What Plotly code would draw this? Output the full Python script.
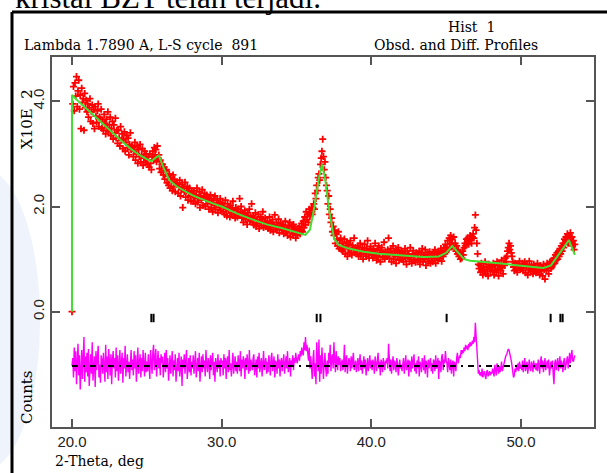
import numpy as np
import plotly.graph_objects as go

# ---------------- data ----------------
scan_start, scan_step = 20.0, 0.05   # 2-theta grid of the observed profile

obs = [0.00,
 3.95,4.28,3.82,4.35,4.10,4.47,3.90,4.20,4.40,3.85,4.12,3.48,4.25,3.98,4.05,3.45,4.15,3.88,4.02,3.80,
 3.95,3.70,3.88,4.05,3.62,3.80,3.93,3.58,3.84,3.48,3.90,3.72,3.60,3.82,3.95,3.52,3.70,3.66,3.85,3.49,
 3.62,3.45,3.75,3.58,3.38,3.66,3.50,3.80,3.42,3.55,3.70,3.35,3.48,3.62,3.28,3.55,3.40,3.68,3.30,3.45,
 3.20,3.45,3.30,3.15,3.52,3.26,3.38,3.10,3.28,3.42,3.05,3.22,3.35,3.12,3.30,2.98,3.18,3.40,3.08,3.15,
 3.12,2.95,3.05,3.22,2.88,3.00,3.15,2.82,3.08,2.95,3.18,2.85,2.98,3.10,2.78,2.92,3.05,2.84,3.00,2.88,
 2.80,2.95,2.75,3.00,2.82,2.70,2.95,3.05,2.88,3.12,2.98,3.08,2.85,3.15,2.92,2.98,2.72,2.88,2.65,2.80,
 2.80,2.60,2.75,2.52,2.68,2.70,2.45,2.58,2.40,2.62,2.35,2.55,2.48,2.30,2.60,2.38,2.52,2.28,2.45,2.42,
 2.45,2.25,2.38,2.50,2.20,2.32,2.42,1.98,2.35,2.28,2.46,2.18,2.30,2.38,2.12,2.28,2.35,2.20,2.10,2.30,
 2.25,2.10,2.30,2.18,2.05,2.22,2.35,2.08,2.15,2.28,1.98,2.20,2.12,2.32,2.02,2.18,2.25,2.00,2.14,2.22,
 2.05,2.18,1.95,2.12,2.22,1.98,2.08,1.90,2.15,2.02,2.20,1.94,2.06,2.12,1.88,2.05,1.98,2.15,1.92,2.04,
 2.08,1.90,2.00,1.85,2.12,1.95,1.82,2.05,1.92,1.98,1.80,2.02,1.88,1.95,2.10,1.84,1.92,1.78,1.98,1.86,
 1.80,1.95,1.85,2.15,1.90,2.00,1.78,1.88,1.70,1.84,1.92,1.75,1.82,1.66,1.88,1.79,1.95,1.72,1.80,2.05,
 1.70,1.82,1.65,1.78,1.88,1.62,1.75,1.68,1.85,1.58,1.72,1.80,1.64,1.76,1.90,1.60,1.70,1.78,1.62,1.68,
 1.72,1.58,1.66,1.80,1.55,1.68,1.62,1.75,1.52,1.65,1.84,1.60,1.70,1.56,1.64,1.76,1.50,1.62,1.68,1.57,
 1.55,1.65,1.48,1.60,1.72,1.52,1.58,1.45,1.64,1.55,1.70,1.42,1.56,1.62,1.48,1.66,1.50,1.58,1.40,1.54,
 1.45,1.58,1.50,1.62,1.48,1.55,1.68,1.52,1.72,1.60,1.80,1.65,1.90,1.75,1.85,1.70,1.95,1.82,1.88,1.98,
 1.85,1.98,2.05,1.95,2.25,2.15,2.40,2.30,2.55,2.62,2.50,2.80,2.92,3.05,3.28,2.95,2.70,2.85,2.55,2.40,
 2.30,2.05,2.20,1.85,1.95,1.70,1.78,1.52,1.62,1.45,1.55,1.30,1.48,1.38,1.25,1.52,1.20,1.35,1.40,1.18,
 1.30,1.15,1.22,1.38,1.10,1.25,1.32,1.05,1.20,1.28,1.12,1.35,1.18,1.08,1.26,1.20,1.40,1.12,1.22,1.15,
 1.10,1.25,1.05,1.18,1.30,1.08,1.15,1.22,1.00,1.14,1.28,1.12,1.05,1.20,1.35,1.10,1.02,1.18,1.24,1.08,
 1.15,1.02,1.20,1.08,1.30,1.12,0.98,1.18,1.05,1.25,1.10,0.95,1.16,1.22,1.04,1.12,1.32,1.00,1.14,1.08,
 1.05,1.18,1.40,1.02,1.12,1.20,0.95,1.10,1.25,1.00,1.15,1.08,0.92,1.18,1.05,1.22,0.98,1.12,1.06,1.15,
 1.00,1.12,0.95,1.08,1.20,1.02,0.90,1.15,1.05,1.10,0.96,1.22,1.04,0.92,1.10,1.16,1.00,1.08,0.94,1.12,
 1.10,0.98,1.05,1.15,0.90,1.02,1.12,1.20,0.95,1.08,1.00,1.18,0.88,1.06,1.12,0.96,1.04,1.14,0.92,1.02,
 1.08,0.95,1.12,1.02,1.18,0.92,1.05,1.10,0.98,1.15,1.02,1.08,1.20,0.96,1.12,1.05,1.22,1.10,1.28,1.15,
 1.22,1.35,1.18,1.40,1.28,1.45,1.30,1.38,1.25,1.42,1.20,1.30,1.15,1.25,1.10,1.18,1.05,1.12,1.00,1.08,
 1.02,1.15,1.08,1.22,1.30,1.25,1.38,1.32,1.40,1.28,1.35,1.45,1.38,1.30,1.42,1.48,1.40,1.60,1.84,1.55,
 1.30,1.10,0.90,0.82,0.88,0.75,0.92,0.80,0.70,0.85,0.78,0.95,0.72,0.86,0.80,0.68,0.90,0.82,0.76,0.88,
 0.85,0.78,0.92,0.70,0.88,0.80,0.75,0.95,0.82,0.68,0.90,0.86,0.78,0.98,0.84,0.72,0.92,0.88,1.02,0.95,
 1.05,1.15,1.22,1.30,1.18,1.25,1.12,1.05,0.95,0.85,0.78,0.92,0.80,0.88,0.75,0.90,0.84,0.96,0.80,0.86,
 0.82,0.92,0.78,0.88,0.95,0.74,0.85,0.90,0.70,0.84,0.96,0.80,0.76,0.88,0.82,0.72,0.90,0.78,0.86,0.74,
 0.80,0.92,0.76,0.85,0.70,0.88,0.78,0.82,0.68,0.90,0.80,0.62,0.86,0.78,0.92,0.84,0.72,0.88,0.95,0.82,
 0.85,0.98,0.90,1.02,0.92,1.08,0.98,1.12,1.00,1.15,1.05,1.20,1.10,1.25,1.15,1.30,1.22,1.38,1.28,1.42,
 1.35,1.48,1.30,1.45,1.38,1.50,1.32,1.42,1.25,1.35,1.18,1.28]

diff = [0.00,
 0.15,-0.22,0.35,-0.10,0.28,-0.35,0.05,0.42,-0.18,0.20,-0.45,0.12,0.30,-0.25,0.08,0.55,-0.30,0.18,-0.12,0.25,
 -0.20,0.32,-0.38,0.10,0.22,-0.15,0.45,-0.28,0.05,0.18,-0.40,0.28,-0.08,0.15,0.38,-0.22,0.02,-0.32,0.20,0.10,
 -0.15,0.25,0.05,-0.30,0.40,-0.12,0.18,-0.25,0.32,0.08,-0.18,0.22,-0.35,0.12,0.28,-0.05,0.15,-0.22,0.35,-0.10,
 0.20,-0.28,0.10,0.30,-0.15,0.05,0.25,-0.32,0.15,-0.05,0.38,-0.20,0.12,0.22,-0.12,0.08,-0.25,0.18,0.30,-0.08,
 0.12,-0.18,0.28,-0.05,0.20,-0.30,0.10,0.35,-0.15,0.05,0.22,-0.22,0.15,-0.10,0.30,0.02,-0.20,0.25,-0.12,0.08,
 -0.10,0.22,0.05,-0.25,0.30,0.10,-0.15,0.25,0.40,-0.08,0.18,0.32,-0.20,0.12,0.28,-0.05,0.15,-0.18,0.22,0.05,
 0.18,-0.22,0.08,0.25,-0.12,0.30,-0.05,0.15,-0.28,0.12,0.20,-0.15,0.05,0.28,-0.20,0.10,-0.08,0.22,-0.30,0.05,
 0.15,-0.10,0.25,-0.20,0.08,0.18,-0.38,0.12,-0.05,0.22,-0.15,0.10,0.30,-0.25,0.02,0.15,-0.12,0.20,-0.18,0.08,
 -0.05,0.20,-0.15,0.12,0.28,-0.22,0.05,0.15,-0.10,0.25,-0.30,0.08,0.18,-0.12,0.22,-0.05,0.10,-0.20,0.30,0.02,
 -0.12,0.15,0.05,-0.25,0.20,-0.08,0.12,0.25,-0.18,0.08,-0.30,0.15,0.02,-0.12,0.22,-0.05,0.10,-0.20,0.15,0.05,
 0.10,-0.18,0.22,-0.05,0.15,-0.25,0.08,0.18,-0.12,0.30,-0.08,0.05,-0.20,0.12,0.25,-0.15,0.02,0.18,-0.10,0.08,
 -0.15,0.20,0.05,-0.10,0.28,-0.20,0.12,-0.05,0.18,0.08,-0.25,0.15,-0.08,0.22,0.02,-0.15,0.30,-0.10,0.12,0.05,
 -0.08,0.15,0.22,-0.18,0.05,0.12,-0.22,0.18,-0.05,0.25,-0.12,0.08,0.15,-0.20,0.10,0.28,-0.08,0.02,0.15,-0.15,
 0.08,-0.12,0.20,0.05,-0.18,0.15,0.25,-0.10,0.02,0.18,-0.22,0.10,0.05,-0.15,0.22,-0.05,0.12,-0.20,0.08,0.15,
 -0.10,0.12,0.22,-0.15,0.05,0.18,-0.05,0.28,-0.12,0.08,0.15,-0.20,0.10,0.02,0.20,-0.08,0.15,0.05,0.25,0.12,
 0.05,0.15,0.22,0.10,0.28,0.18,0.35,0.25,0.20,0.45,0.30,0.55,0.28,0.40,0.22,0.10,0.35,-0.05,0.18,-0.15,
 -0.25,0.12,0.30,-0.20,0.05,-0.35,0.45,0.15,-0.10,0.50,-0.30,0.20,-0.15,0.35,0.10,-0.25,0.05,0.25,-0.05,-0.20,
 0.10,-0.15,0.25,0.05,0.40,-0.10,0.15,0.22,-0.05,0.45,0.10,-0.12,0.28,0.05,-0.08,0.18,0.02,0.15,-0.10,0.05,
 0.12,-0.08,0.05,0.40,-0.12,0.10,0.20,-0.15,0.02,0.15,0.08,-0.10,0.18,-0.05,0.12,0.25,-0.08,0.05,0.10,-0.12,
 0.08,0.15,-0.10,0.05,0.22,-0.08,0.10,-0.15,0.05,0.18,-0.05,0.12,-0.18,0.08,0.15,-0.10,0.02,0.20,-0.05,0.10,
 -0.08,0.12,0.05,-0.15,0.18,0.02,-0.10,0.10,0.25,-0.05,0.08,-0.18,0.12,0.05,-0.12,0.15,0.02,-0.08,0.10,0.05,
 0.15,-0.05,0.42,0.08,-0.10,0.12,-0.15,0.05,0.18,-0.08,0.10,0.02,-0.12,0.15,0.05,-0.18,0.08,0.12,-0.05,0.02,
 -0.10,0.08,0.15,-0.15,0.05,0.20,-0.08,0.02,0.12,-0.20,0.10,0.05,-0.12,0.18,-0.05,0.08,0.22,-0.10,0.05,-0.15,
 0.10,-0.05,0.18,-0.20,0.08,0.02,-0.12,0.15,0.05,-0.08,0.20,-0.15,0.10,0.05,-0.22,0.12,-0.05,0.08,0.15,-0.10,
 0.05,-0.15,0.12,0.08,-0.10,0.20,-0.05,0.02,0.15,-0.25,0.10,0.05,-0.12,0.18,0.22,-0.08,0.12,0.05,0.28,0.10,
 0.05,-0.12,0.15,0.02,-0.08,0.12,-0.15,0.05,0.10,-0.20,0.08,0.02,-0.10,0.15,0.25,0.05,0.12,0.20,0.15,0.30,
 0.22,0.30,0.25,0.35,0.28,0.40,0.32,0.38,0.30,0.42,0.35,0.45,0.38,0.40,0.48,0.42,0.55,0.45,0.82,0.50,
 0.20,-0.10,-0.15,-0.08,-0.18,-0.12,-0.20,-0.05,-0.22,-0.15,-0.10,-0.18,-0.25,-0.12,-0.08,-0.20,-0.15,-0.10,-0.18,-0.12,
 -0.15,-0.05,-0.12,-0.20,0.02,-0.10,-0.18,0.05,-0.08,-0.15,0.00,-0.12,-0.05,0.08,-0.10,-0.02,0.05,0.10,0.15,0.20,
 0.22,0.28,0.32,0.30,0.25,0.18,0.10,0.00,-0.15,-0.22,-0.18,-0.05,-0.12,0.02,-0.08,0.05,-0.10,0.08,-0.05,0.02,
 -0.08,0.10,-0.12,0.05,0.15,-0.10,0.02,0.08,-0.15,0.05,0.12,-0.05,-0.10,0.08,0.02,-0.12,0.10,-0.05,0.05,-0.08,
 0.05,-0.10,0.12,0.02,-0.15,0.08,0.18,-0.05,0.10,-0.12,0.05,0.15,-0.08,0.02,0.10,-0.05,0.12,-0.18,0.05,0.08,
 -0.05,0.10,-0.15,-0.35,0.05,0.12,-0.08,0.02,0.15,-0.10,0.05,0.18,-0.05,0.10,0.02,-0.12,0.08,0.15,-0.08,0.05,
 0.10,0.18,-0.05,0.12,0.25,0.05,0.15,0.30,0.10,0.08,0.15,0.20]

# calculated profile (green line), knots
calc_x = [20.0, 20.0, 20.5, 21.0, 21.5, 22.0, 22.5, 23.0, 23.5, 24.0, 24.5, 25.0, 25.3, 25.6, 25.8,
          26.1, 26.5, 27.0, 27.5, 28.0, 28.5, 29.0, 29.5, 30.0, 31.0, 32.0, 33.0, 34.0, 35.0,
          35.6, 35.9, 36.2, 36.5, 36.7, 36.9, 37.2, 37.5, 37.8, 38.5, 39.5, 40.5, 41.5, 42.5,
          43.5, 44.5, 45.0, 45.4, 45.8, 46.2, 46.6, 47.5, 48.5, 49.5, 50.5, 51.5, 52.0, 52.5,
          53.0, 53.2, 53.6]
calc_y = [0.00, 4.12, 3.98, 3.85, 3.72, 3.58, 3.45, 3.32, 3.20, 3.08, 2.98, 2.90, 2.86, 2.93, 2.97,
          2.75, 2.50, 2.38, 2.30, 2.22, 2.16, 2.10, 2.05, 2.00, 1.87, 1.76, 1.66, 1.59, 1.50,
          1.46, 1.56, 2.00, 2.55, 2.80, 2.55, 1.90, 1.40, 1.27, 1.20, 1.14, 1.10, 1.08, 1.05,
          1.04, 1.05, 1.12, 1.25, 1.12, 1.00, 0.97, 0.95, 0.92, 0.89, 0.86, 0.83, 0.88, 1.08,
          1.30, 1.36, 1.08]

reflections = [25.30, 25.45, 36.35, 36.60, 45.03, 51.98, 52.63, 52.78]

x_ticks = [20, 30, 40, 50]
x_tick_labels = ["20.0", "30.0", "40.0", "50.0"]
y_ticks = [0, 2, 4]
y_tick_labels = ["0.0", "2.0", "4.0"]

diff_offset = -1.03       # where the difference curve is drawn
reflection_level = -0.12  # where the reflection markers sit

assert len(obs) == 673 and len(diff) == 673, (len(obs), len(diff))
two_theta = np.round(scan_start + scan_step * np.arange(len(obs)), 2)

# ---------------- figure ----------------
W, H = 607, 473
def PX(x): return x / W
def PY(y): return 1 - y / H

fig = go.Figure()

fig.add_trace(go.Scatter(x=two_theta, y=obs, mode="markers",
                         marker=dict(symbol="cross-thin", size=5, color="red",
                                     line=dict(width=1.8, color="red")),
                         hoverinfo="skip"))
fig.add_trace(go.Scatter(x=calc_x, y=calc_y, mode="lines",
                         line=dict(color="#44dd33", width=2), hoverinfo="skip"))
fig.add_trace(go.Scatter(x=two_theta, y=np.array(diff) + diff_offset, mode="lines",
                         line=dict(color="#ff00ff", width=1.4), hoverinfo="skip"))
fig.add_trace(go.Scatter(x=[two_theta[0], two_theta[-1]], y=[diff_offset, diff_offset],
                         mode="lines", line=dict(color="black", width=2, dash="6px,5px,2px,5px"),
                         hoverinfo="skip"))
fig.add_trace(go.Scatter(x=reflections, y=[reflection_level] * len(reflections), mode="markers",
                         marker=dict(symbol="line-ns", size=6, line=dict(width=2, color="black")),
                         hoverinfo="skip"))

x0, x1 = 52, 594
y0, y1 = 57, 427
xr = [20 + (x0 - 72) / 14.967, 20 + (x1 - 72) / 14.967]
yr = [(311.7 - y1) / 52.6, (311.7 - y0) / 52.6]

axis_common = dict(showline=True, linecolor="#555", linewidth=2, mirror="ticks",
                   ticks="inside", ticklen=8, tickwidth=1.5, tickcolor="#555",
                   showgrid=False, zeroline=False,
                   tickfont=dict(family="Liberation Sans", size=15, color="#222"))
fig.update_layout(
    width=W, height=H, margin=dict(l=0, r=0, t=0, b=0),
    paper_bgcolor="white", plot_bgcolor="white", showlegend=False,
    xaxis=dict(domain=[PX(x0), PX(x1)], range=xr, tickvals=x_ticks, ticktext=x_tick_labels,
               **axis_common),
    yaxis=dict(domain=[PY(y1), PY(y0)], range=yr, tickvals=y_ticks, ticktext=y_tick_labels,
               tickangle=-90, **axis_common),
)

serif = "DejaVu Serif"
ann = [
    dict(text="kristal BZT telah terjadi.", x=PX(13), y=PY(17), xanchor="left", yanchor="bottom",
         font=dict(family="Liberation Serif", size=31, color="black")),
    dict(text="Hist  1", x=PX(497), y=PY(27), xanchor="right", yanchor="middle",
         font=dict(family=serif, size=14, color="black")),
    dict(text="Lambda 1.7890 A, L-S cycle  891", x=PX(22), y=PY(45), xanchor="left", yanchor="middle",
         font=dict(family=serif, size=14, color="black")),
    dict(text="Obsd. and Diff. Profiles", x=PX(540), y=PY(45), xanchor="right", yanchor="middle",
         font=dict(family=serif, size=14, color="black")),
    dict(text="X10E  2", x=PX(27), y=PY(119), xanchor="center", yanchor="middle", textangle=-90,
         font=dict(family=serif, size=15, color="black")),
    dict(text="Counts", x=PX(27), y=PY(397), xanchor="center", yanchor="middle", textangle=-90,
         font=dict(family=serif, size=15, color="black")),
    dict(text="2-Theta, deg", x=PX(53), y=PY(461), xanchor="left", yanchor="middle",
         font=dict(family=serif, size=14, color="black")),
]
for a in ann:
    a.update(xref="paper", yref="paper", showarrow=False)
fig.update_layout(annotations=ann)

# faint background watermark at the left edge
fig.add_shape(type="circle", xref="paper", yref="paper", layer="below",
              x0=PX(-70), x1=PX(40), y0=PY(470), y1=PY(170),
              fillcolor="rgba(225,234,248,0.55)", line=dict(width=0))

# outer frame (top and left edges visible)
fig.add_shape(type="line", xref="paper", yref="paper", x0=PX(12), x1=1.0, y0=PY(12), y1=PY(12),
              line=dict(color="black", width=3))
fig.add_shape(type="line", xref="paper", yref="paper", x0=PX(12), x1=PX(12), y0=PY(12), y1=0.0,
              line=dict(color="black", width=3))

fig.write_html("out.html", config={"displayModeBar": False},
               post_script="document.body.style.margin='0';document.body.style.padding='0';"
                           "document.body.style.overflow='hidden';")
